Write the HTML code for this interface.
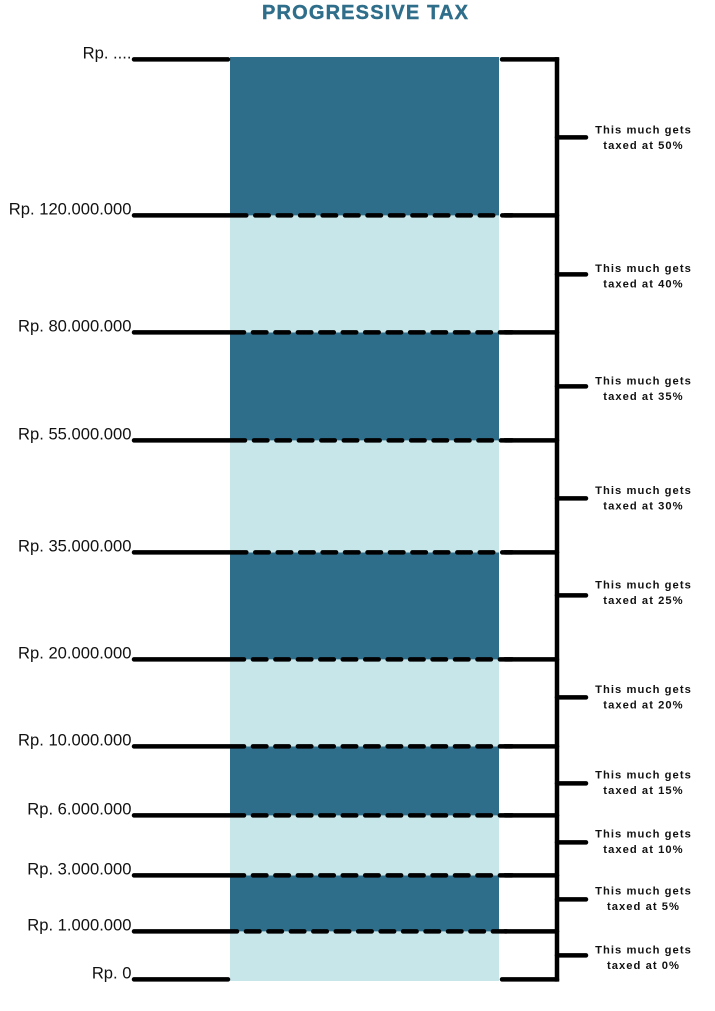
<!DOCTYPE html>
<html lang="en">
<head>
<meta charset="utf-8">
<title>Progressive Tax</title>
<style>
  html, body { margin: 0; padding: 0; background: #fff; }
  body { width: 715px; height: 1011px; overflow: hidden; }
  svg { display: block; }
  .threshold { font: 16.6px "Liberation Sans", sans-serif; fill: #111; text-anchor: end; }
  .note { font: bold 11.2px "Liberation Sans", sans-serif; fill: #111; text-anchor: middle; letter-spacing: 1.05px; }
  .title { font: bold 20px "Liberation Sans", sans-serif; fill: #2f6e8a; stroke: #2f6e8a; stroke-width: .4px; text-anchor: middle; }
</style>
</head>
<body>
<svg id="chart" width="715" height="1011" viewBox="0 0 715 1011" xmlns="http://www.w3.org/2000/svg">
  <text class="title" x="365" y="19" textLength="206" lengthAdjust="spacing">PROGRESSIVE TAX</text>
</svg>
<script>
// Data, listed from the lowest bracket upward.
const thresholdLabels = ["Rp. 0", "Rp. 1.000.000", "Rp. 3.000.000", "Rp. 6.000.000", "Rp. 10.000.000", "Rp. 20.000.000", "Rp. 35.000.000", "Rp. 55.000.000", "Rp. 80.000.000", "Rp. 120.000.000", "Rp. ...."];
const taxRates = [0, 5, 10, 15, 20, 25, 30, 35, 40, 50];
const bracketSizes = [48, 56, 60, 69, 87, 107, 112, 108, 117, 156];
const markerHeights = [24, 32, 33, 32, 49, 64, 54, 54, 58, 78];

// Layout and axis functions.
const svg = document.getElementById('chart');
const NS = 'http://www.w3.org/2000/svg';
const DOMAIN_MAX = 920, Y_BOTTOM = 979.4, Y_TOP = 59.4;
const yScale = function (units) { return Y_BOTTOM - (units / DOMAIN_MAX) * (Y_BOTTOM - Y_TOP); };
const BAR_LEFT = 230, BAR_RIGHT = 499, SPINE_X = 557, LEFT_START = 133, NOTE_X = 643.5;
const DARK = '#2f6e8a', LIGHT = '#c7e6ea';
const dashStarts = [243.7, 250.7, 250.7, 250.7, 250.7, 253, 251.7, 250.7, 253];
const noteNudges = [2.5, -0.5, -0.5, -0.5, 0, -2.5, 0, 2.5, 2, 0.5];

function add(tag, attrs) {
  const el = document.createElementNS(NS, tag);
  for (const k in attrs) el.setAttribute(k, attrs[k]);
  svg.appendChild(el);
  return el;
}
function stroke(x1, y1, x2, y2, extra) {
  return add('line', Object.assign({ x1: x1, y1: y1, x2: x2, y2: y2, stroke: '#000', 'stroke-width': 4.5, 'stroke-linecap': 'round' }, extra || {}));
}

const boundaries = [0];
bracketSizes.forEach(function (s, i) { boundaries.push(boundaries[i] + s); });

// Bands
bracketSizes.forEach(function (s, i) {
  const last = i === bracketSizes.length - 1;
  const yTop = yScale(boundaries[i + 1]) - (last ? 2.4 : 0);
  const yBot = yScale(boundaries[i]) + (i === 0 ? 1.6 : 0);
  const band = add('rect', { x: BAR_LEFT, y: yTop, width: BAR_RIGHT - BAR_LEFT, height: yBot - yTop, fill: i % 2 ? DARK : LIGHT });
  
  
});

// Threshold lines and labels
boundaries.forEach(function (b, i) {
  const y = yScale(b);
  const inner = i > 0 && i < boundaries.length - 1;
  const start = inner ? dashStarts[i - 1] : 0;
  const left = stroke(LEFT_START + 1, y, inner ? start - 6.7 : BAR_LEFT - 2, y);
  
  
  if (inner) {
    const dashed = stroke(start + 2.25, y, 512, y, { 'stroke-dasharray': '13.5 8.95' });
    
    
  }
  const right = stroke(inner ? 505 : 502, y, SPINE_X, y);
  
  
  const label = add('text', { class: 'threshold', x: 131.5, y: y - 0.9 });
  label.textContent = thresholdLabels[i];
  
  
});

// Spine
const spine = stroke(SPINE_X, yScale(boundaries[boundaries.length - 1]), SPINE_X, yScale(0), { 'stroke-linecap': 'square' });



// Bracket markers and notes
taxRates.forEach(function (rate, i) {
  const y = yScale(boundaries[i] + markerHeights[i]);
  const tick = stroke(SPINE_X, y, 586, y);
  
  
  const mid = y + noteNudges[i];
  const line1 = add('text', { class: 'note', x: NOTE_X, y: mid - 4.4 });
  line1.textContent = 'This much gets';
  
  
  const line2 = add('text', { class: 'note', x: NOTE_X, y: mid + 11.1 });
  line2.textContent = 'taxed at ' + rate + '%';
  
  
});
</script>
</body>
</html>
